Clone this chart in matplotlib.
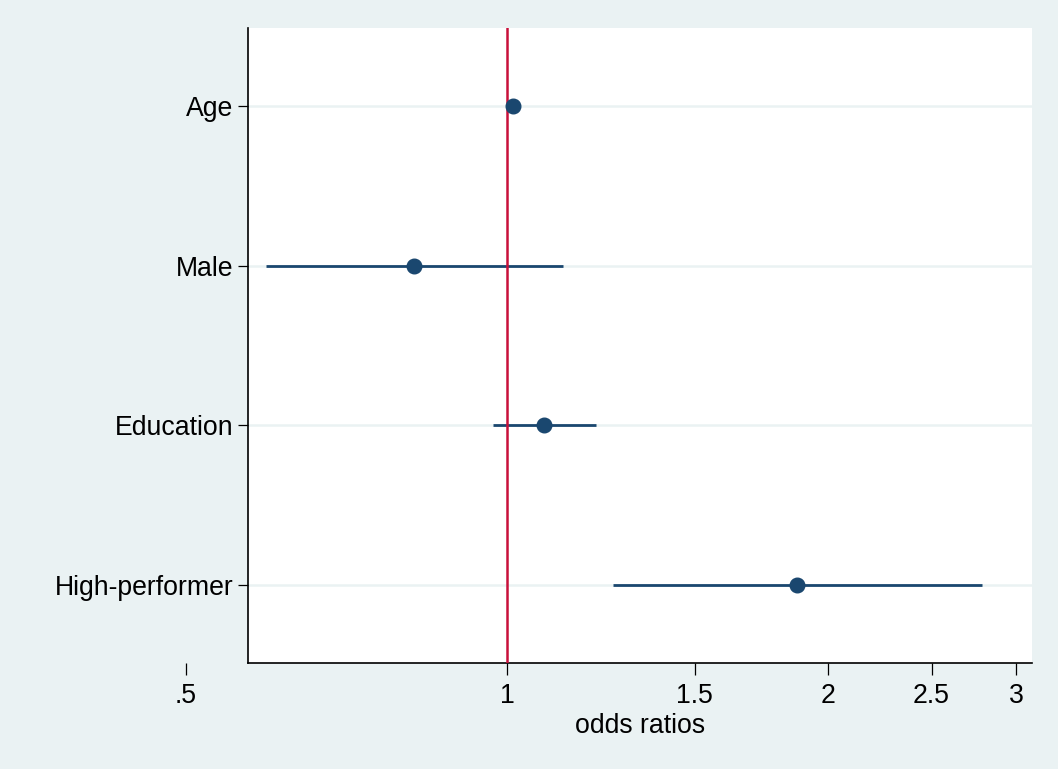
import numpy as np
import matplotlib
matplotlib.use("Agg")
import matplotlib.pyplot as plt

categories = ["Age", "Male", "Education", "High-performer"]
odds = [1.012, 0.818, 1.083, 1.868]
ci_low = [1.001, 0.594, 0.970, 1.257]
ci_high = [1.023, 1.128, 1.211, 2.785]
xticks = [0.5, 1, 1.5, 2, 2.5, 3]
xtick_labels = [".5", "1", "1.5", "2", "2.5", "3"]

plt.rcParams['font.family'] = ['Liberation Sans', 'DejaVu Sans']

BG = "#eaf2f3"
NAVY = "#1a476f"
RED = "#c8103a"

W, H = 1058, 769
fig = plt.figure(figsize=(W / 100, H / 100), dpi=100, facecolor=BG)

# pixel geometry
px_per_log = (1016 - 186) / np.log(6)
main_l, main_r, top, bot = 248, 1032, 28, 663
x_hi = 3 * np.exp((main_r - 1016) / px_per_log)
x_lo_main = 0.5 * np.exp((main_l - 186) / px_per_log)

ax = fig.add_axes([main_l / W, (H - bot) / H, (main_r - main_l) / W, (bot - top) / H])
ax.set_facecolor("white")
ax.set_xscale("log")
ax.set_xlim(x_lo_main, x_hi)

y = np.arange(1, len(categories) + 1)
ax.set_ylim(4.4875, 0.5125)
ax.set_yticks(y)
ax.set_yticklabels(categories, fontsize=19.2)
ax.tick_params(axis="y", direction="out", length=7.5, width=0.9, pad=3)
ax.set_xticks([])
ax.xaxis.set_minor_locator(matplotlib.ticker.NullLocator())
for yy in y:
    ax.axhline(yy, color=BG, lw=1.8, zorder=0.5)

for s in ["top", "right"]:
    ax.spines[s].set_visible(False)
for s in ["left", "bottom"]:
    ax.spines[s].set_linewidth(1.2)
    ax.spines[s].set_color("black")

ax.hlines(y, ci_low, ci_high, color=NAVY, lw=2, zorder=2)
ax.axvline(1, color=RED, lw=1.8, zorder=3)
ax.plot(odds, y, "o", color=NAVY, markersize=10.5, zorder=4, linestyle="none")

# helper axis for x ticks extending to 0.5
ax2 = fig.add_axes([186 / W, (H - bot) / H, (main_r - 186) / W, (bot - top) / H])
ax2.patch.set_visible(False)
ax2.set_xscale("log")
ax2.set_xlim(0.5, x_hi)
ax2.set_xticks(xticks)
ax2.set_xticklabels(xtick_labels, fontsize=19.2)
ax2.xaxis.set_minor_locator(matplotlib.ticker.NullLocator())
ax2.set_yticks([])
for s in ax2.spines.values():
    s.set_visible(False)
ax2.tick_params(axis="x", direction="out", length=8.5, width=0.9, pad=6)

ax.set_xlabel("odds ratios", fontsize=19.2, labelpad=36)

fig.savefig("out.png", dpi=100, facecolor=BG)
